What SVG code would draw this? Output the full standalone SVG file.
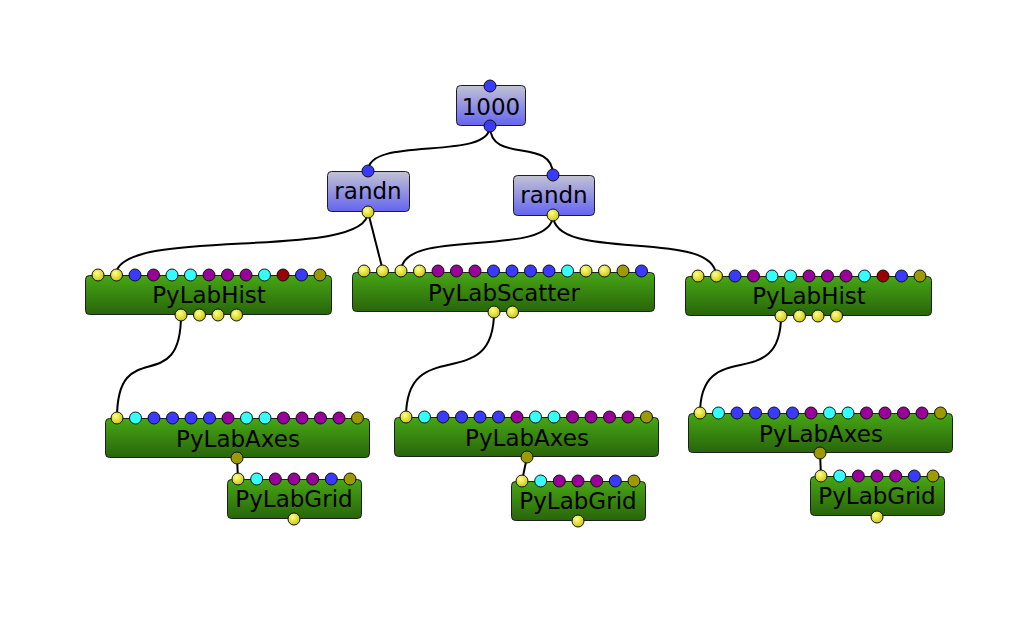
<svg xmlns="http://www.w3.org/2000/svg" width="1017" height="643" viewBox="0 0 1017 643">
<defs>
<linearGradient id="gBlue" x1="0" y1="0" x2="0" y2="1">
<stop offset="0" stop-color="#c2c2d4"/>
<stop offset="1" stop-color="#6464f0"/>
</linearGradient>
<linearGradient id="gGreen" x1="0" y1="0" x2="0" y2="1">
<stop offset="0" stop-color="#47a615"/>
<stop offset="1" stop-color="#28650a"/>
</linearGradient>
<radialGradient id="gYellow" cx="0.4" cy="0.35" r="0.7">
<stop offset="0" stop-color="#ffff8a"/>
<stop offset="1" stop-color="#c8c400"/>
</radialGradient>
</defs>
<style>
.bx{stroke:#1e1e1e;stroke-width:1}
.blue-n{fill:url(#gBlue)}
.green-n{fill:url(#gGreen)}
.lbl{font-family:"DejaVu Sans",sans-serif;font-size:23px;fill:#000;text-anchor:middle}
.p{stroke:#111;stroke-width:1}
.y{fill:url(#gYellow)}
.b{fill:#3a3aff}
.m{fill:#990099}
.c{fill:#33ffff}
.r{fill:#990000}
.o{fill:#9c9a00}
.w{fill:none;stroke:#000;stroke-width:2}
</style>
<rect width="1017" height="643" fill="#fff"/>
<g id="connectors">
<path class="w" d="M490,126 C490,162 368,135 368,171"/>
<path class="w" d="M490,126 C490,165 553,136 553,175"/>
<path class="w" d="M368,212 C368,262 116,225 116,275"/>
<path class="w" d="M368,212 L383,271"/>
<path class="w" d="M553,215 C553,260 401,226 401,271"/>
<path class="w" d="M553,215 C553,264 716,227 716,276"/>
<path class="w" d="M181,315 C181,400 117,333 117,418"/>
<path class="w" d="M494,312 C494,397 406,332 406,417"/>
<path class="w" d="M781,316 C781,396 700,334 700,414"/>
<path class="w" d="M237,458 L238,479"/>
<path class="w" d="M527,457 L522,481"/>
<path class="w" d="M820,453 L821,476"/>
</g>
<g id="n1000">
<rect class="bx blue-n" x="456.5" y="85.5" width="69" height="40" rx="4"/>
<text class="lbl" x="491" y="115">1000</text>
<circle class="p b" cx="490" cy="86" r="6"/>
<circle class="p b" cx="490" cy="126" r="6"/>
</g>
<g id="randn1">
<rect class="bx blue-n" x="327.5" y="171.5" width="82" height="40" rx="4"/>
<text class="lbl" x="368" y="199">randn</text>
<circle class="p b" cx="368" cy="171" r="6"/>
<circle class="p y" cx="368" cy="212" r="6"/>
</g>
<g id="randn2">
<rect class="bx blue-n" x="513.5" y="175.5" width="81" height="40" rx="4"/>
<text class="lbl" x="554" y="203">randn</text>
<circle class="p b" cx="553" cy="175" r="6"/>
<circle class="p y" cx="553" cy="215" r="6"/>
</g>
<g id="hist1">
<rect class="bx green-n" x="85.5" y="275.5" width="246" height="39" rx="4"/>
<text class="lbl" x="209" y="303">PyLabHist</text>
<g transform="translate(98,275)">
<circle class="p y" cx="0" cy="0" r="6"/><circle class="p y" cx="18.5" cy="0" r="6"/><circle class="p b" cx="37" cy="0" r="6"/><circle class="p m" cx="55.5" cy="0" r="6"/><circle class="p c" cx="74" cy="0" r="6"/><circle class="p c" cx="92.5" cy="0" r="6"/><circle class="p m" cx="111" cy="0" r="6"/><circle class="p m" cx="129.5" cy="0" r="6"/><circle class="p m" cx="148" cy="0" r="6"/><circle class="p c" cx="166.5" cy="0" r="6"/><circle class="p r" cx="185" cy="0" r="6"/><circle class="p b" cx="203.5" cy="0" r="6"/><circle class="p o" cx="222" cy="0" r="6"/>
</g>
<g transform="translate(181,315)">
<circle class="p y" cx="0" cy="0" r="6"/><circle class="p y" cx="18.5" cy="0" r="6"/><circle class="p y" cx="37" cy="0" r="6"/><circle class="p y" cx="55.5" cy="0" r="6"/>
</g>
</g>
<g id="scatter">
<rect class="bx green-n" x="352.5" y="272.5" width="302" height="39" rx="4"/>
<text class="lbl" x="504" y="301">PyLabScatter</text>
<g transform="translate(364,271)">
<circle class="p y" cx="0" cy="0" r="6"/><circle class="p y" cx="18.5" cy="0" r="6"/><circle class="p y" cx="37" cy="0" r="6"/><circle class="p y" cx="55.5" cy="0" r="6"/><circle class="p m" cx="74" cy="0" r="6"/><circle class="p m" cx="92.5" cy="0" r="6"/><circle class="p m" cx="111" cy="0" r="6"/><circle class="p b" cx="129.5" cy="0" r="6"/><circle class="p b" cx="148" cy="0" r="6"/><circle class="p b" cx="166.5" cy="0" r="6"/><circle class="p b" cx="185" cy="0" r="6"/><circle class="p c" cx="203.5" cy="0" r="6"/><circle class="p y" cx="222" cy="0" r="6"/><circle class="p y" cx="240.5" cy="0" r="6"/><circle class="p o" cx="259" cy="0" r="6"/><circle class="p b" cx="277.5" cy="0" r="6"/>
</g>
<g transform="translate(494,312)">
<circle class="p y" cx="0" cy="0" r="6"/><circle class="p y" cx="18.5" cy="0" r="6"/>
</g>
</g>
<g id="hist2">
<rect class="bx green-n" x="685.5" y="276.5" width="246" height="39" rx="4"/>
<text class="lbl" x="809" y="304">PyLabHist</text>
<g transform="translate(698,276)">
<circle class="p y" cx="0" cy="0" r="6"/><circle class="p y" cx="18.5" cy="0" r="6"/><circle class="p b" cx="37" cy="0" r="6"/><circle class="p m" cx="55.5" cy="0" r="6"/><circle class="p c" cx="74" cy="0" r="6"/><circle class="p c" cx="92.5" cy="0" r="6"/><circle class="p m" cx="111" cy="0" r="6"/><circle class="p m" cx="129.5" cy="0" r="6"/><circle class="p m" cx="148" cy="0" r="6"/><circle class="p c" cx="166.5" cy="0" r="6"/><circle class="p r" cx="185" cy="0" r="6"/><circle class="p b" cx="203.5" cy="0" r="6"/><circle class="p o" cx="222" cy="0" r="6"/>
</g>
<g transform="translate(781,316)">
<circle class="p y" cx="0" cy="0" r="6"/><circle class="p y" cx="18.5" cy="0" r="6"/><circle class="p y" cx="37" cy="0" r="6"/><circle class="p y" cx="55.5" cy="0" r="6"/>
</g>
</g>
<g id="axes1">
<rect class="bx green-n" x="105.5" y="418.5" width="264" height="39" rx="4"/>
<text class="lbl" x="238" y="447">PyLabAxes</text>
<g transform="translate(117,418)">
<circle class="p y" cx="0" cy="0" r="6"/><circle class="p c" cx="18.5" cy="0" r="6"/><circle class="p b" cx="37" cy="0" r="6"/><circle class="p b" cx="55.5" cy="0" r="6"/><circle class="p b" cx="74" cy="0" r="6"/><circle class="p b" cx="92.5" cy="0" r="6"/><circle class="p m" cx="111" cy="0" r="6"/><circle class="p c" cx="129.5" cy="0" r="6"/><circle class="p c" cx="148" cy="0" r="6"/><circle class="p m" cx="166.5" cy="0" r="6"/><circle class="p m" cx="185" cy="0" r="6"/><circle class="p m" cx="203.5" cy="0" r="6"/><circle class="p m" cx="222" cy="0" r="6"/><circle class="p o" cx="240.5" cy="0" r="6"/>
</g>
<circle class="p o" cx="237" cy="458" r="6"/>
</g>
<g id="grid1">
<rect class="bx green-n" x="227.5" y="479.5" width="134" height="39" rx="4"/>
<text class="lbl" x="294" y="507">PyLabGrid</text>
<g transform="translate(238,479)">
<circle class="p y" cx="0" cy="0" r="6"/><circle class="p c" cx="18.7" cy="0" r="6"/><circle class="p m" cx="37.3" cy="0" r="6"/><circle class="p m" cx="56" cy="0" r="6"/><circle class="p m" cx="74.7" cy="0" r="6"/><circle class="p b" cx="93.3" cy="0" r="6"/><circle class="p o" cx="112" cy="0" r="6"/>
</g>
<circle class="p y" cx="294" cy="519" r="6"/>
</g>
<g id="axes2">
<rect class="bx green-n" x="394.5" y="417.5" width="264" height="39" rx="4"/>
<text class="lbl" x="527" y="446">PyLabAxes</text>
<g transform="translate(406,417)">
<circle class="p y" cx="0" cy="0" r="6"/><circle class="p c" cx="18.5" cy="0" r="6"/><circle class="p b" cx="37" cy="0" r="6"/><circle class="p b" cx="55.5" cy="0" r="6"/><circle class="p b" cx="74" cy="0" r="6"/><circle class="p b" cx="92.5" cy="0" r="6"/><circle class="p m" cx="111" cy="0" r="6"/><circle class="p c" cx="129.5" cy="0" r="6"/><circle class="p c" cx="148" cy="0" r="6"/><circle class="p m" cx="166.5" cy="0" r="6"/><circle class="p m" cx="185" cy="0" r="6"/><circle class="p m" cx="203.5" cy="0" r="6"/><circle class="p m" cx="222" cy="0" r="6"/><circle class="p o" cx="240.5" cy="0" r="6"/>
</g>
<circle class="p o" cx="527" cy="457" r="6"/>
</g>
<g id="grid2">
<rect class="bx green-n" x="511.5" y="481.5" width="134" height="39" rx="4"/>
<text class="lbl" x="578" y="509">PyLabGrid</text>
<g transform="translate(522,481)">
<circle class="p y" cx="0" cy="0" r="6"/><circle class="p c" cx="18.7" cy="0" r="6"/><circle class="p m" cx="37.3" cy="0" r="6"/><circle class="p m" cx="56" cy="0" r="6"/><circle class="p m" cx="74.7" cy="0" r="6"/><circle class="p b" cx="93.3" cy="0" r="6"/><circle class="p o" cx="112" cy="0" r="6"/>
</g>
<circle class="p y" cx="578" cy="521" r="6"/>
</g>
<g id="axes3">
<rect class="bx green-n" x="688.5" y="413.5" width="264" height="39" rx="4"/>
<text class="lbl" x="821" y="442">PyLabAxes</text>
<g transform="translate(700,413)">
<circle class="p y" cx="0" cy="0" r="6"/><circle class="p c" cx="18.5" cy="0" r="6"/><circle class="p b" cx="37" cy="0" r="6"/><circle class="p b" cx="55.5" cy="0" r="6"/><circle class="p b" cx="74" cy="0" r="6"/><circle class="p b" cx="92.5" cy="0" r="6"/><circle class="p m" cx="111" cy="0" r="6"/><circle class="p c" cx="129.5" cy="0" r="6"/><circle class="p c" cx="148" cy="0" r="6"/><circle class="p m" cx="166.5" cy="0" r="6"/><circle class="p m" cx="185" cy="0" r="6"/><circle class="p m" cx="203.5" cy="0" r="6"/><circle class="p m" cx="222" cy="0" r="6"/><circle class="p o" cx="240.5" cy="0" r="6"/>
</g>
<circle class="p o" cx="820" cy="453" r="6"/>
</g>
<g id="grid3">
<rect class="bx green-n" x="810.5" y="476.5" width="134" height="39" rx="4"/>
<text class="lbl" x="877" y="504">PyLabGrid</text>
<g transform="translate(821,476)">
<circle class="p y" cx="0" cy="0" r="6"/><circle class="p c" cx="18.7" cy="0" r="6"/><circle class="p m" cx="37.3" cy="0" r="6"/><circle class="p m" cx="56" cy="0" r="6"/><circle class="p m" cx="74.7" cy="0" r="6"/><circle class="p b" cx="93.3" cy="0" r="6"/><circle class="p o" cx="112" cy="0" r="6"/>
</g>
<circle class="p y" cx="877" cy="517" r="6"/>
</g>
</svg>
